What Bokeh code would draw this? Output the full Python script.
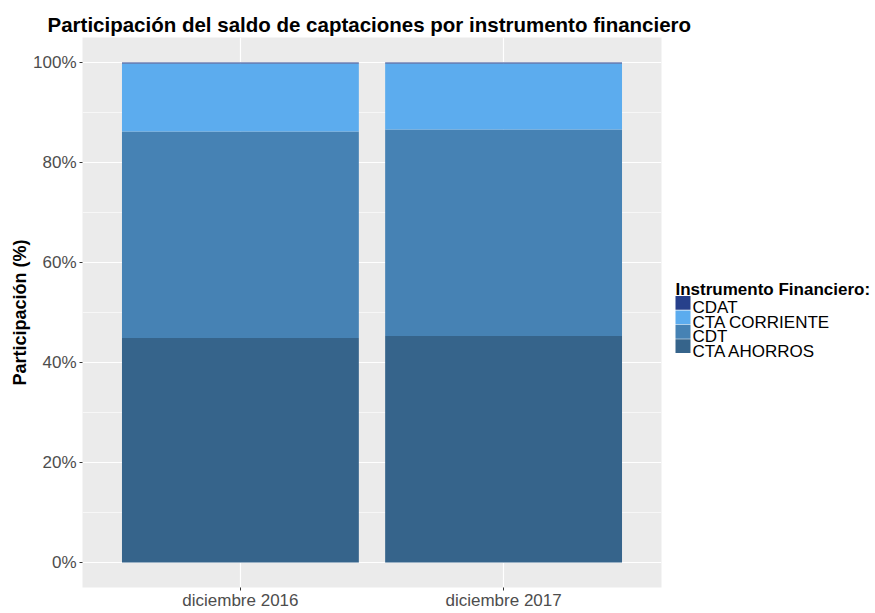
from bokeh.plotting import figure
from bokeh.layouts import row, column
from bokeh.models import (FactorRange, Range1d, FixedTicker, CustomJSTickFormatter,
                          ColumnDataSource)
from bokeh.core.properties import value
from bokeh.embed import file_html
from bokeh.resources import INLINE

periods = ["diciembre 2016", "diciembre 2017"]
cta_ahorros = [44.9, 45.3]
cdt = [41.3, 41.3]
cta_corriente = [13.6, 13.2]
cdat = [0.2, 0.2]

series = ["CTA AHORROS", "CDT", "CTA CORRIENTE", "CDAT"]
colors = ["#36648B", "#4682B4", "#5CACEE", "#27408B"]
y_ticks = [0, 20, 40, 60, 80, 100]
y_minor = [10, 30, 50, 70, 90]
chart_title = "Participación del saldo de captaciones por instrumento financiero"
legend_title = "Instrumento Financiero:"

FONT = "Liberation Sans"
TOTAL_W, TITLE_H, BODY_H, PLOT_W = 875, 37, 575, 672
FRAME_H = 549  # height of the plot frame (legend panel frame is aligned to it)


def blank(fig):
    fig.grid.visible = False
    fig.outline_line_color = None
    fig.background_fill_color = "white"
    fig.border_fill_color = "white"


# ---- title strip -------------------------------------------------------
tf = figure(width=TOTAL_W, height=TITLE_H, output_backend="svg", toolbar_location=None,
            x_range=Range1d(0, TOTAL_W), y_range=Range1d(TITLE_H, 0),
            x_axis_location=None, y_axis_location=None,
            min_border_left=0, min_border_right=0, min_border_top=0, min_border_bottom=0)
blank(tf)
tf.text(x=[47], y=[24], text=[chart_title], text_font=value(FONT),
        text_font_size="20.5px", text_font_style="bold", text_color="black",
        text_baseline="alphabetic", text_align="left")

# ---- main plot ---------------------------------------------------------
src = ColumnDataSource(dict(period=periods, **{
    "CTA AHORROS": cta_ahorros, "CDT": cdt,
    "CTA CORRIENTE": cta_corriente, "CDAT": cdat}))

p = figure(x_range=FactorRange(factors=periods, range_padding=0.1,
                               range_padding_units="absolute"),
           y_range=Range1d(-5, 105),
           width=PLOT_W, height=BODY_H, output_backend="svg", toolbar_location=None,
           min_border_left=82, min_border_top=0, min_border_right=11,
           min_border_bottom=0)

p.vbar_stack(series, x="period", width=0.9, source=src,
             color=colors, line_color=None)

p.background_fill_color = "#EBEBEB"
p.border_fill_color = "white"
p.outline_line_color = None

p.ygrid.ticker = FixedTicker(ticks=y_ticks, minor_ticks=y_minor)
p.ygrid.grid_line_color = "white"
p.ygrid.grid_line_width = 1.2
p.ygrid.minor_grid_line_color = "white"
p.ygrid.minor_grid_line_width = 0.6
p.xgrid.grid_line_color = "white"
p.xgrid.grid_line_width = 1.2

p.yaxis.ticker = FixedTicker(ticks=y_ticks, minor_ticks=y_minor)
p.yaxis.formatter = CustomJSTickFormatter(code="return tick + '%';")
p.yaxis.axis_label = "Participación (%)"
p.yaxis.axis_label_text_font = FONT
p.yaxis.axis_label_text_font_size = "18px"
p.yaxis.axis_label_text_font_style = "bold"
p.yaxis.axis_label_text_color = "black"
p.yaxis.axis_label_standoff = 0
p.yaxis.minor_tick_line_color = None

for ax in (p.xaxis[0], p.yaxis[0]):
    ax.axis_line_color = None
    ax.major_tick_line_color = "#333333"
    ax.major_tick_out = 3
    ax.major_tick_in = 0
    ax.major_label_text_font = FONT
    ax.major_label_text_font_size = "17px"
    ax.major_label_text_color = "#4D4D4D"
    ax.major_label_standoff = 2
p.xaxis.major_label_standoff = 0

# ---- legend panel (pixel-scaled figure right of the plot) ---------------
LEG_W = TOTAL_W - PLOT_W
lf = figure(width=LEG_W, height=BODY_H, output_backend="svg", toolbar_location=None,
            x_range=Range1d(0, LEG_W), y_range=Range1d(FRAME_H, 0),
            x_axis_location=None, y_axis_location=None,
            min_border_left=0, min_border_right=0, min_border_top=0, min_border_bottom=0)
blank(lf)

key_left, key_w, key_h, pitch = 3, 15, 13.8, 14.4
first_top = 295.0 - TITLE_H
order = series[::-1]  # CDAT, CTA CORRIENTE, CDT, CTA AHORROS
key_colors = colors[::-1]
tops = [first_top + pitch * i for i in range(len(order))]
key_src = ColumnDataSource(dict(
    label=order, color=key_colors,
    top=tops, bottom=[t + key_h for t in tops],
    left=[key_left] * len(order), right=[key_left + key_w] * len(order),
    tx=[key_left + key_w + 2] * len(order), ty=[t + 12 for t in tops]))
lf.quad(left="left", right="right", top="top", bottom="bottom",
        fill_color="color", line_color=None, source=key_src)
lf.text(x="tx", y="ty", text="label", source=key_src,
        text_font=value(FONT), text_font_size="17px", text_color="black",
        text_baseline="alphabetic", text_align="left")
lf.text(x=[key_left], y=[289 - TITLE_H], text=[legend_title],
        text_font=value(FONT), text_font_size="17px", text_font_style="bold",
        text_color="black", text_baseline="alphabetic", text_align="left")

layout = column(tf, row(p, lf))
open("out.html", "w").write(file_html(layout, INLINE))
